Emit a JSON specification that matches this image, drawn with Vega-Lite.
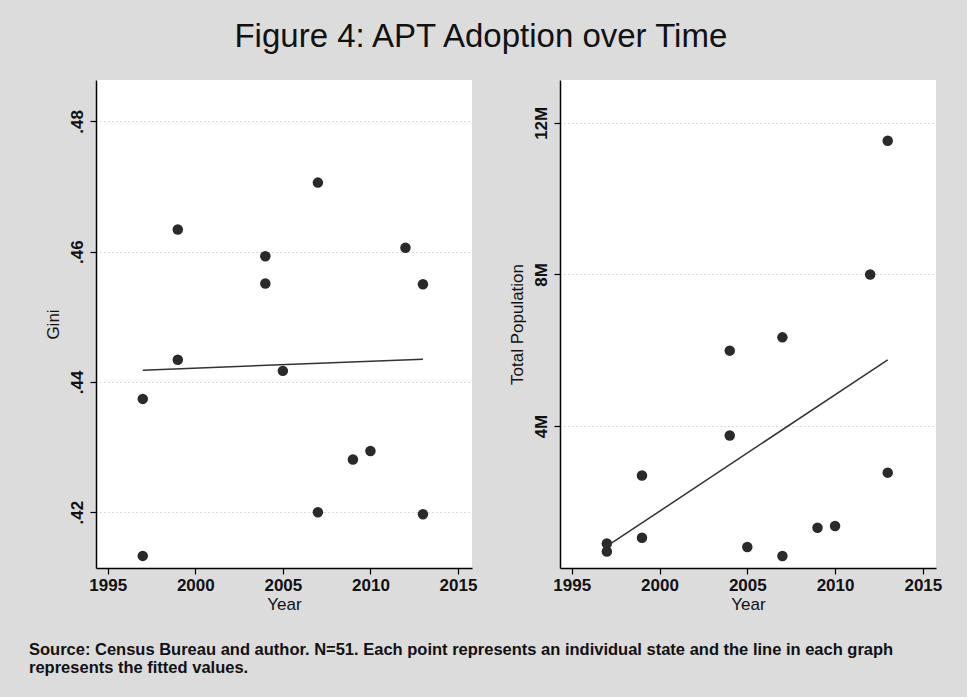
{
  "$schema": "https://vega.github.io/schema/vega-lite/v6.json",
  "background": "#dcdcdc",
  "padding": {"left": 29, "top": 21, "right": 25, "bottom": 20},
  "title": {
    "text": ["Source: Census Bureau and author. N=51. Each point represents an individual state and the line in each graph", "represents the fitted values."],
    "orient": "bottom", "anchor": "start", "dx": -15, "offset": 30,
    "fontSize": 16.5, "font": "Liberation Sans", "fontWeight": "bold", "lineHeight": 18, "color": "#111111"
  },
  "datasets": {
    "gini": [
      {"year": 1997, "gini": 0.4133}, {"year": 1997, "gini": 0.4374},
      {"year": 1999, "gini": 0.4634}, {"year": 1999, "gini": 0.4434},
      {"year": 2004, "gini": 0.4593}, {"year": 2004, "gini": 0.4551},
      {"year": 2005, "gini": 0.4417},
      {"year": 2007, "gini": 0.4706}, {"year": 2007, "gini": 0.42},
      {"year": 2009, "gini": 0.4281},
      {"year": 2010, "gini": 0.4294},
      {"year": 2012, "gini": 0.4606},
      {"year": 2013, "gini": 0.455}, {"year": 2013, "gini": 0.4197}
    ],
    "ginifit": [
      {"year": 1997, "gini": 0.4418}, {"year": 2013, "gini": 0.4435}
    ],
    "pop": [
      {"year": 1997, "pop": 902000}, {"year": 1997, "pop": 689000},
      {"year": 1999, "pop": 2696000}, {"year": 1999, "pop": 1050000},
      {"year": 2004, "pop": 5989000}, {"year": 2004, "pop": 3750000},
      {"year": 2005, "pop": 809000},
      {"year": 2007, "pop": 6340000}, {"year": 2007, "pop": 569000},
      {"year": 2009, "pop": 1318000},
      {"year": 2010, "pop": 1364000},
      {"year": 2012, "pop": 7996000},
      {"year": 2013, "pop": 11529000}, {"year": 2013, "pop": 2770000}
    ],
    "popfit": [
      {"year": 1997, "pop": 828000}, {"year": 2013, "pop": 5748000}
    ]
  },
  "vconcat": [
    {
      "title": {"text": "Figure 4: APT Adoption over Time", "fontSize": 33, "fontWeight": "normal", "font": "Liberation Sans", "color": "#111111", "anchor": "middle", "offset": 26, "dx": -12},
      "spacing": 88,
      "bounds": "flush",
      "hconcat": [
        {
          "width": 376, "height": 488,
          "layer": [
            {
              "data": {"name": "gini"},
              "mark": {"type": "point", "filled": true, "color": "#2a2a2a", "size": 110, "opacity": 1},
              "encoding": {
                "x": {"field": "year", "type": "quantitative", "scale": {"domain": [1994.33, 2015.8], "nice": false, "zero": false},
                      "axis": {"values": [1995, 2000, 2005, 2010, 2015], "format": "d", "title": "Year"}},
                "y": {"field": "gini", "type": "quantitative", "scale": {"domain": [0.41144, 0.48635], "nice": false, "zero": false},
                      "axis": {"values": [0.42, 0.44, 0.46, 0.48], "labelExpr": "replace(format(datum.value, '.2f'), '0.', '.')", "title": "Gini"}}
              }
            },
            {
              "data": {"name": "ginifit"},
              "mark": {"type": "line", "color": "#333333", "strokeWidth": 1.5},
              "encoding": {
                "x": {"field": "year", "type": "quantitative"},
                "y": {"field": "gini", "type": "quantitative"}
              }
            }
          ]
        },
        {
          "width": 376, "height": 488,
          "layer": [
            {
              "data": {"name": "pop"},
              "mark": {"type": "point", "filled": true, "color": "#2a2a2a", "size": 110, "opacity": 1},
              "encoding": {
                "x": {"field": "year", "type": "quantitative", "scale": {"domain": [1994.33, 2015.75], "nice": false, "zero": false},
                      "axis": {"values": [1995, 2000, 2005, 2010, 2015], "format": "d", "title": "Year"}},
                "y": {"field": "pop", "type": "quantitative", "scale": {"domain": [254000, 13130000], "nice": false, "zero": false},
                      "axis": {"values": [4000000, 8000000, 12000000], "labelExpr": "format(datum.value / 1000000, 'd') + 'M'", "title": "Total Population"}}
              }
            },
            {
              "data": {"name": "popfit"},
              "mark": {"type": "line", "color": "#333333", "strokeWidth": 1.5},
              "encoding": {
                "x": {"field": "year", "type": "quantitative"},
                "y": {"field": "pop", "type": "quantitative"}
              }
            }
          ]
        }
      ]
    }
  ],
  "config": {
    "view": {"fill": "white", "stroke": null},
    "font": "Liberation Sans",
    "axis": {
      "domainColor": "#000000", "domainWidth": 1.5,
      "tickColor": "#000000", "tickWidth": 1.2, "tickSize": 6,
      "labelFont": "Liberation Sans", "labelFontSize": 17, "labelFontWeight": "bold", "labelColor": "#111111",
      "titleFont": "Liberation Sans", "titleFontSize": 17, "titleFontWeight": "normal", "titleColor": "#111111",
      "grid": false
    },
    "axisY": {"grid": true, "gridColor": "#b4b4b4", "gridDash": [1, 3], "gridWidth": 1, "labelAngle": -90, "labelPadding": 4, "titlePadding": 6},
    "axisX": {"labelPadding": 3, "titlePadding": 3, "labelFlush": false}
  }
}
